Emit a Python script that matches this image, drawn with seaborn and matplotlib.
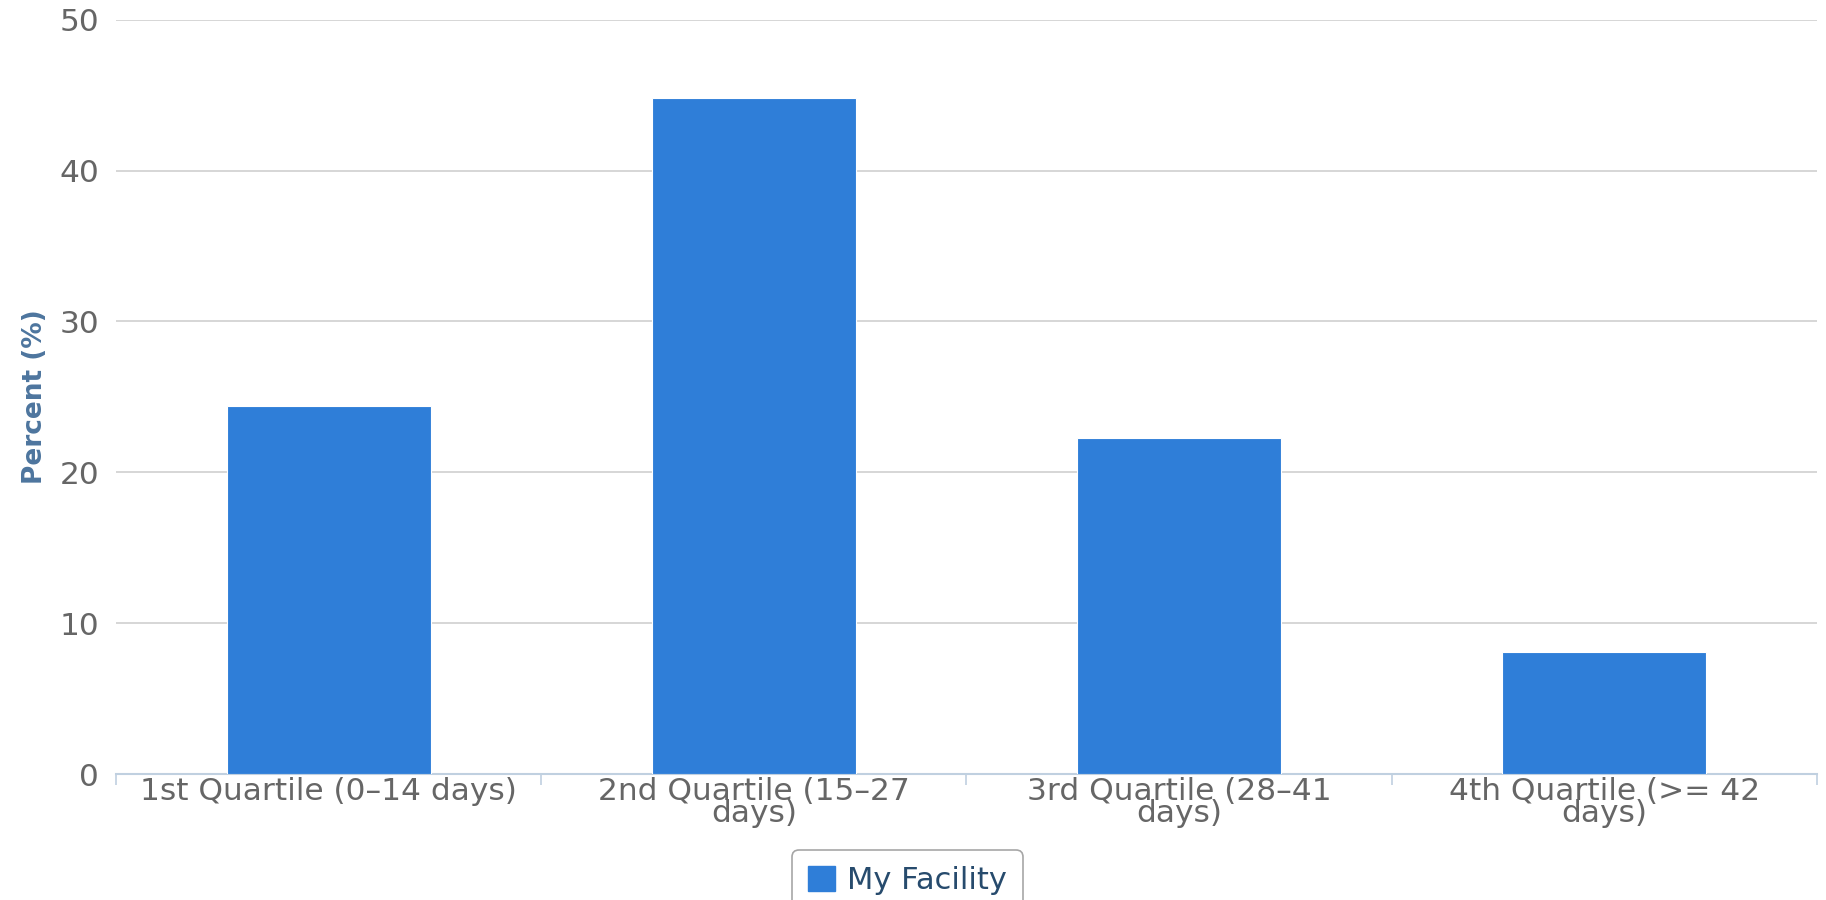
"""
Length of stay by quartile – My Facility
"""
import matplotlib
matplotlib.use("Agg")
import matplotlib.pyplot as plt
import pandas as pd
import seaborn as sns
from matplotlib.patches import Patch

# ── data ────────────────────────────────────────────────────────────────────
categories = ["1st Quartile (0–14 days)", "2nd Quartile (15–27\ndays)",
              "3rd Quartile (28–41\ndays)", "4th Quartile (>= 42\ndays)"]
percent = [24.4, 44.8, 22.3, 8.1]
series_name = "My Facility"
y_ticks = [0, 10, 20, 30, 40, 50]

BAR = "#2f7ed8"
df = pd.DataFrame({"quartile": categories, "percent": percent})

sns.set_theme(style="white")
plt.rcParams["font.family"] = ["DejaVu Sans"]

fig = plt.figure(figsize=(18.26, 9), dpi=100)
ax = fig.add_axes([0.0635, 0.14, 0.9315, 0.838])

sns.barplot(data=df, x="quartile", y="percent", color=BAR, saturation=1,
            width=0.48, edgecolor="white", linewidth=0.8, ax=ax, zorder=3)

ax.set_ylim(0, 50)
ax.set_yticks(y_ticks)
ax.set_xlim(-0.5, len(categories) - 0.5)
ax.grid(axis="y", color="#d0d0d0", linewidth=1.2, zorder=0)
ax.set_axisbelow(True)

for s in ["top", "right", "left"]:
    ax.spines[s].set_visible(False)
ax.spines["bottom"].set_color("#c0d0e0")
ax.spines["bottom"].set_linewidth(1.5)

# ticks between categories like the original
ax.set_xticks([i - 0.5 for i in range(len(categories) + 1)], minor=True)
ax.tick_params(axis="x", which="minor", bottom=True, length=8,
               color="#c0d0e0", width=1.2)
ax.tick_params(axis="x", which="major", length=0, pad=2, labelsize=22.5,
               labelcolor="#666666")
ax.tick_params(axis="y", length=0, pad=12, labelsize=22.5, labelcolor="#666666")
for lab in ax.get_xticklabels():
    lab.set_linespacing(0.72)

ax.set_xlabel("")
ax.set_ylabel("Percent (%)", fontsize=19, fontweight="bold", color="#4d759e",
              labelpad=8)

handles = [Patch(facecolor=BAR, edgecolor=BAR, label=series_name)]
leg = fig.legend(handles=handles, loc="upper center", bbox_to_anchor=(0.497, 0.072),
                 frameon=True, fontsize=22, handlelength=0.9, handleheight=0.9,
                 handletextpad=0.4, borderpad=0.5, fancybox=True)
leg.get_frame().set_edgecolor("#909090")
leg.get_frame().set_linewidth(1.2)
for t in leg.get_texts():
    t.set_color("#274b6d")

plt.savefig("out.png", dpi=100)
plt.close()
